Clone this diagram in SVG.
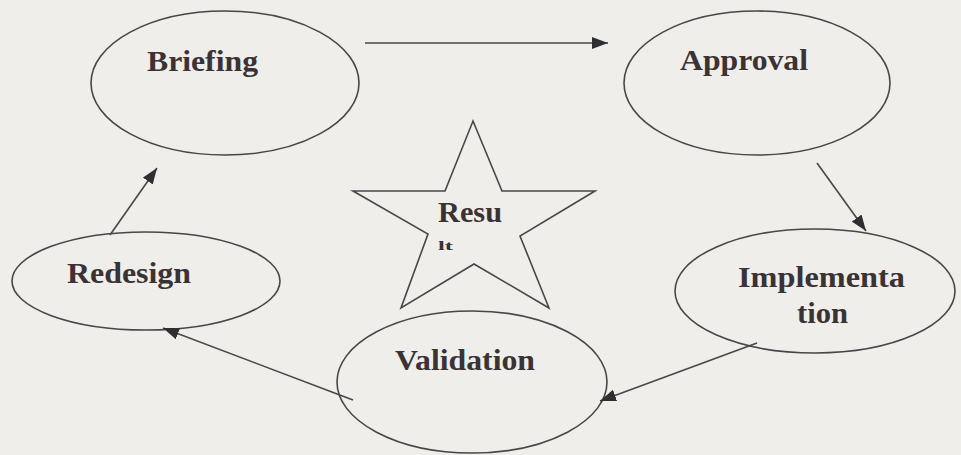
<svg xmlns="http://www.w3.org/2000/svg" width="961" height="455" viewBox="0 0 961 455">
<defs>
<marker id="ah" markerUnits="userSpaceOnUse" markerWidth="18" markerHeight="14" refX="16" refY="6" orient="auto">
<path d="M0,0 L16,6 L0,12 Z" fill="#2e2e33"/>
</marker>
<style>
.node ellipse, .node polygon { fill: none; stroke: #4a4548; stroke-width: 1.6; }
.lbl { font-family: "Liberation Serif", "Times New Roman", serif; font-weight: bold; font-size: 30px; fill: #3a3234; }
.conn line { stroke: #4a4548; stroke-width: 1.6; marker-end: url(#ah); }
</style>
</defs>
<rect width="961" height="455" fill="#efeeea"/>
<g id="briefing" class="node">
<ellipse cx="225" cy="83" rx="134" ry="72"/>
<text class="lbl" x="147" y="71" textLength="111" lengthAdjust="spacingAndGlyphs">Briefing</text>
</g>
<g id="approval" class="node">
<ellipse cx="757" cy="83" rx="133" ry="72"/>
<text class="lbl" x="680" y="70" textLength="128" lengthAdjust="spacingAndGlyphs">Approval</text>
</g>
<g id="implementation" class="node">
<ellipse cx="815" cy="291" rx="140" ry="62"/>
<text class="lbl" x="738" y="287" textLength="167" lengthAdjust="spacingAndGlyphs">Implementa</text>
<text class="lbl" x="797" y="323" textLength="51" lengthAdjust="spacingAndGlyphs">tion</text>
</g>
<g id="validation" class="node">
<ellipse cx="472" cy="382" rx="135" ry="71"/>
<text class="lbl" x="395" y="370" textLength="140" lengthAdjust="spacingAndGlyphs">Validation</text>
</g>
<g id="redesign" class="node">
<ellipse cx="146" cy="281" rx="134" ry="49"/>
<text class="lbl" x="67" y="283" textLength="124" lengthAdjust="spacingAndGlyphs">Redesign</text>
</g>
<g id="result" class="node">
<polygon points="473,121 502,191 595,191 520,236 549,308 474,264 401,308 428,234 353,191 445,191"/>
<text class="lbl" x="438" y="222" textLength="64" lengthAdjust="spacingAndGlyphs">Resu</text>
<text class="lbl" x="438" y="250" style="font-size:12px" textLength="15" lengthAdjust="spacingAndGlyphs">lt</text>
</g>
<g id="connectors" class="conn">
<line x1="365" y1="43" x2="608" y2="43"/>
<line x1="817" y1="163" x2="866" y2="231"/>
<line x1="757" y1="343" x2="600" y2="401"/>
<line x1="353" y1="400" x2="163" y2="328"/>
<line x1="110" y1="235" x2="157" y2="168"/>
</g>
</svg>
